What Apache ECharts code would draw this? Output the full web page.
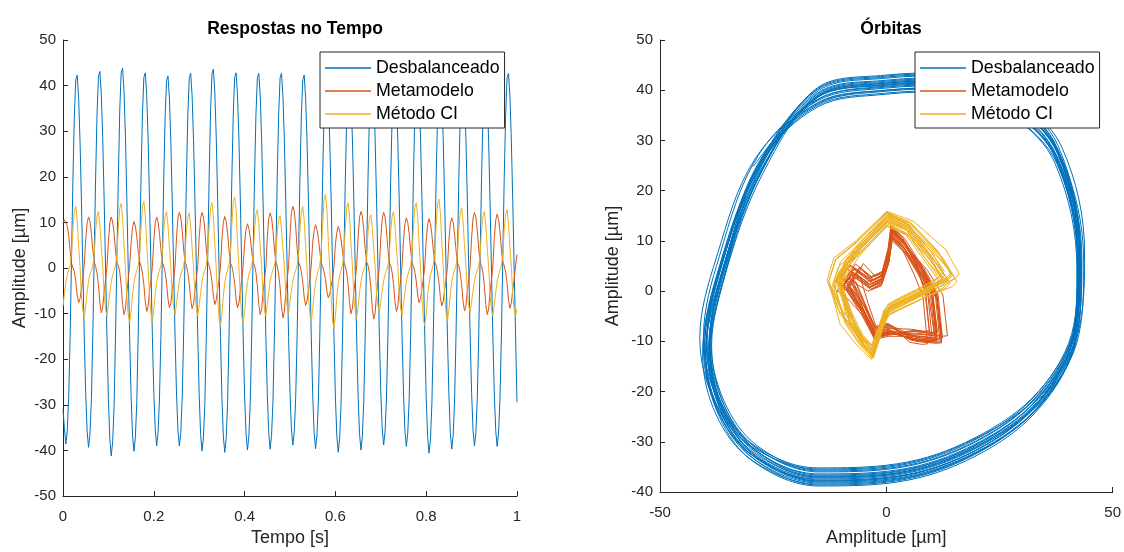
<!DOCTYPE html>
<html><head><meta charset="utf-8">
<script src="https://cdn.jsdelivr.net/npm/echarts@6/dist/echarts.min.js"></script>
<style>html,body{margin:0;padding:0;background:#fff}#c{width:1124px;height:552px}</style>
</head><body><div id="c"></div>
<script>
const seriesNames = ['Desbalanceado', 'Metamodelo', 'Método CI'];
const titles = ['Respostas no Tempo', 'Órbitas'];
const sampleInterval = 0.003125; // s between samples, 0 .. 1 s

// horizontal displacement [µm] (time plot + orbit abscissa)
const blueX = [
-31.0,-35.1,-38.6,-35.7,-28.4,-15.3,2.1,19.5,33.4,41.3,42.3,37.4,27.9,14.6,-0.5,-15.4,
-27.5,-35.8,-39.3,-36.4,-28.9,-14.9,2.6,19.9,34.0,42.1,43.1,38.1,28.4,15.0,-0.1,-15.0,
-28.8,-37.5,-41.2,-38.1,-30.3,-15.2,2.3,19.6,34.6,42.8,43.8,38.8,28.9,14.9,-0.3,-15.2,
-28.1,-36.6,-40.2,-37.2,-29.5,-14.8,2.7,20.0,33.8,41.8,42.8,37.9,28.2,14.6,-0.2,-15.0,
-27.3,-35.5,-39.0,-36.1,-28.7,-15.0,2.2,19.4,33.3,41.1,42.1,37.3,27.8,14.7,-0.4,-15.3,
-27.4,-35.5,-39.0,-36.1,-28.7,-14.9,2.5,19.8,33.7,41.7,42.7,37.8,28.2,14.9,0.0,-15.1,
-28.0,-36.5,-40.1,-37.1,-29.5,-15.1,2.4,19.7,34.4,42.6,43.6,38.6,28.8,15.1,-0.1,-15.0,
-28.3,-36.8,-40.4,-37.4,-29.7,-15.2,2.3,19.6,33.8,41.8,42.8,37.9,28.2,14.7,-0.3,-15.2,
-27.9,-36.3,-39.9,-36.9,-29.3,-15.0,2.5,19.8,33.7,41.7,42.7,37.8,28.2,14.8,-0.2,-15.1,
-27.8,-36.1,-39.7,-36.7,-29.2,-14.9,2.4,19.7,33.7,41.7,42.7,37.8,28.2,14.8,-0.2,-15.0,
-27.2,-35.3,-38.8,-35.9,-28.5,-15.1,2.2,19.5,33.4,41.3,42.3,37.4,27.9,14.6,-0.4,-15.2,
-27.7,-36.0,-39.6,-36.6,-29.1,-15.0,2.6,19.9,33.7,41.7,42.7,37.8,28.2,14.9,-0.1,-15.0,
-28.3,-36.8,-40.4,-37.4,-29.7,-15.2,2.3,19.6,33.6,41.5,42.5,37.6,28.1,14.7,-0.3,-15.3,
-27.9,-36.3,-39.9,-36.9,-29.3,-14.9,2.5,19.8,34.0,42.0,43.0,38.1,28.4,15.0,-0.1,-15.0,
-27.2,-35.3,-38.8,-35.9,-28.5,-15.1,2.3,19.6,33.5,41.4,42.4,37.5,28.0,14.7,-0.3,-15.2,
-27.4,-35.6,-39.1,-36.2,-28.7,-15.0,2.4,19.7,34.1,42.2,43.2,38.2,28.5,15.0,0.0,-15.0,
-28.4,-36.9,-40.6,-37.6,-29.8,-15.2,2.2,19.5,33.7,41.6,42.6,37.7,28.1,14.7,-0.3,-15.2,
-27.8,-36.1,-39.7,-36.7,-29.2,-15.0,2.5,19.8,33.9,41.9,42.9,38.0,28.3,14.9,-0.1,-15.1,
-27.3,-35.5,-39.0,-36.1,-28.7,-15.1,2.3,19.6,33.3,41.2,42.2,37.3,27.9,14.6,-0.4,-15.2,
-27.4,-35.6,-39.1,-36.2,-28.7,-14.9,2.5,19.8,33.7,41.7,42.7,37.8,28.2,14.8,-0.2,-15.1,
-29.4];
const orangeX = [
10.0,10.6,10.5,9.3,7.1,3.9,1.0,0.6,-0.8,-2.9,-5.9,-7.6,-6.7,-4.6,-2.3,0.8,
6.2,9.9,11.2,10.2,7.6,4.1,1.3,0.4,-1.2,-3.7,-7.6,-9.8,-8.6,-5.2,-2.6,0.4,
5.8,9.9,11.2,10.1,7.6,3.9,1.1,0.6,-0.9,-3.9,-8.0,-10.2,-9.0,-5.3,-2.4,0.6,
5.5,8.9,10.2,9.2,6.9,3.8,1.3,0.5,-1.1,-3.6,-7.4,-9.5,-8.4,-5.0,-2.7,0.3,
6.1,9.9,11.2,10.2,7.6,4.1,1.2,0.4,-0.9,-3.3,-6.8,-8.7,-7.7,-4.8,-2.5,0.5,
6.6,10.9,12.2,11.2,8.3,4.2,1.2,0.6,-1.0,-3.4,-6.9,-8.9,-7.8,-4.9,-2.4,0.7,
6.7,10.9,12.2,11.2,8.3,4.1,1.4,0.5,-0.8,-3.0,-6.2,-8.0,-7.0,-4.6,-2.6,0.4,
6.2,10.0,11.3,10.3,7.7,4.0,1.1,0.4,-1.1,-3.3,-6.8,-8.7,-7.7,-4.9,-2.5,0.6,
5.4,8.4,9.7,8.7,6.6,3.7,1.2,0.6,-1.0,-3.9,-8.0,-10.2,-9.0,-5.3,-2.7,0.3,
6.7,10.8,12.1,11.1,8.2,4.2,1.3,0.5,-1.2,-4.1,-8.5,-10.9,-9.6,-5.5,-2.6,0.5,
7.1,12.2,13.5,12.5,9.2,4.3,1.3,0.6,-0.9,-3.1,-6.4,-8.2,-7.2,-4.7,-2.4,0.6,
5.6,8.2,9.5,8.5,6.5,3.7,1.0,0.4,-0.8,-2.5,-5.1,-6.5,-5.7,-4.0,-2.3,0.4,
5.2,7.8,9.1,8.1,6.2,3.6,1.2,0.5,-1.1,-3.8,-7.8,-10.0,-8.8,-5.2,-2.6,0.5,
6.8,11.1,12.4,11.4,8.4,4.2,1.3,0.6,-1.2,-4.3,-8.7,-11.2,-9.9,-5.6,-2.7,0.4,
6.6,10.9,12.2,11.2,8.3,4.1,1.2,0.5,-1.0,-3.6,-7.4,-9.5,-8.4,-5.0,-2.5,0.6,
6.1,9.7,11.0,10.0,7.5,4.0,1.1,0.4,-0.9,-2.9,-5.9,-7.6,-6.7,-4.5,-2.4,0.5,
6.0,9.5,10.8,9.8,7.3,3.9,1.3,0.6,-1.0,-3.2,-6.5,-8.3,-7.3,-4.7,-2.6,0.4,
6.1,9.7,11.0,10.0,7.5,4.0,1.2,0.5,-1.1,-3.6,-7.3,-9.4,-8.3,-5.0,-2.5,0.6,
6.6,10.9,12.2,11.2,8.3,4.2,1.2,0.4,-1.0,-3.9,-8.0,-10.2,-9.0,-5.3,-2.6,0.5,
6.5,10.5,11.8,10.8,8.0,4.1,1.3,0.5,-0.9,-3.3,-6.9,-8.8,-7.7,-4.8,-2.5,0.6,
3.0];
const yellowX = [
-8.4,-5.6,-3.1,-1.6,-0.4,0.6,3.2,8.6,12.5,13.5,10.5,5.0,0.3,-6.1,-9.4,-10.9,
-8.4,-5.3,-2.9,-1.4,-0.5,0.4,2.8,8.2,11.4,12.4,9.4,4.6,0.4,-5.8,-9.0,-10.5,
-8.0,-5.4,-3.0,-1.5,-0.6,0.5,3.1,8.8,13.1,14.1,11.1,5.2,0.1,-6.3,-10.4,-11.9,
-9.4,-5.9,-3.2,-1.6,-0.5,0.6,3.3,9.0,13.6,14.6,11.6,5.4,0.2,-6.2,-10.1,-11.6,
-9.1,-5.7,-3.1,-1.5,-0.4,0.5,2.9,8.3,11.4,12.4,9.4,4.6,0.5,-5.7,-8.7,-10.2,
-7.7,-5.2,-2.8,-1.4,-0.5,0.4,2.8,8.1,11.1,12.1,9.1,4.5,0.4,-5.8,-9.0,-10.5,
-8.0,-5.4,-3.0,-1.5,-0.5,0.6,3.2,8.9,13.3,14.3,11.3,5.3,0.1,-6.5,-11.2,-12.7,
-10.2,-6.2,-3.3,-1.6,-0.4,0.7,3.5,9.4,14.6,15.6,12.6,5.8,0.3,-6.3,-10.6,-12.1,
-9.6,-5.9,-3.2,-1.5,-0.5,0.5,3.0,8.4,11.8,12.8,9.8,4.7,0.4,-5.8,-9.0,-10.5,
-8.0,-5.3,-2.9,-1.4,-0.4,0.4,2.7,7.9,10.5,11.5,8.5,4.3,0.5,-5.5,-8.3,-9.8,
-7.3,-5.0,-2.8,-1.4,-0.5,0.5,3.1,8.6,12.5,13.5,10.5,5.0,0.2,-6.2,-10.1,-11.6,
-9.1,-5.8,-3.2,-1.6,-0.5,0.7,3.6,9.6,15.1,16.1,13.1,6.0,0.1,-6.6,-11.6,-13.1,
-10.6,-6.3,-3.3,-1.6,-0.5,0.6,3.2,8.9,13.3,14.3,11.3,5.3,0.3,-6.1,-9.4,-10.9,
-8.4,-5.4,-3.0,-1.4,-0.4,0.4,2.7,8.0,10.7,11.7,8.7,4.3,0.5,-5.5,-8.3,-9.8,
-7.3,-5.0,-2.8,-1.4,-0.5,0.5,2.9,8.3,11.4,12.4,9.4,4.6,0.4,-5.7,-8.8,-10.3,
-7.8,-5.3,-2.9,-1.5,-0.5,0.6,3.2,8.9,13.3,14.3,11.3,5.3,0.1,-6.5,-11.2,-12.7,
-10.2,-6.1,-3.3,-1.6,-0.4,0.7,3.4,9.2,14.1,15.1,12.1,5.6,0.3,-6.2,-10.1,-11.6,
-9.1,-5.8,-3.1,-1.5,-0.5,0.5,3.0,8.5,12.2,13.2,10.2,4.9,0.4,-5.6,-8.3,-9.8,
-7.3,-5.0,-2.8,-1.4,-0.5,0.5,2.9,8.3,11.4,12.4,9.4,4.6,0.4,-5.8,-9.0,-10.5,
-8.0,-5.3,-2.9,-1.5,-0.5,0.5,3.0,8.4,11.8,12.8,9.8,4.7,0.4,-5.8,-9.0,-10.5,
-9.0];

// vertical displacement [µm] (orbit ordinate)
const blueY = [
19.0,5.2,-10.8,-23.0,-32.0,-36.8,-36.0,-30.8,-21.4,-8.0,6.0,27.0,36.5,41.5,41.0,38.5,
24.0,4.2,-12.0,-24.2,-33.2,-38.0,-37.2,-32.0,-22.6,-9.2,5.0,26.0,35.5,40.5,40.0,37.5,
26.6,6.8,-9.4,-21.6,-30.6,-35.4,-34.6,-29.4,-20.0,-6.6,7.6,28.6,38.1,43.1,42.6,40.1,
25.4,5.6,-11.6,-23.8,-32.8,-37.6,-36.8,-31.6,-22.2,-8.8,6.4,27.4,36.9,41.9,41.4,38.9,
23.4,3.6,-12.6,-24.8,-33.8,-38.6,-37.8,-32.6,-23.2,-9.8,4.4,25.4,34.9,39.9,39.4,36.9,
26.0,6.2,-10.0,-22.2,-31.2,-36.0,-35.2,-30.0,-20.6,-7.2,7.0,28.0,37.5,42.5,42.0,39.5,
24.8,5.0,-11.2,-23.4,-32.4,-37.2,-36.4,-31.2,-21.8,-8.4,5.8,26.8,36.3,41.3,40.8,38.3,
27.0,7.2,-9.2,-21.4,-30.4,-35.2,-34.4,-29.2,-19.8,-6.4,8.0,29.0,38.5,43.5,43.0,40.5,
23.2,3.4,-12.8,-25.0,-34.0,-38.8,-38.0,-32.8,-23.4,-10.0,4.2,25.2,34.7,39.7,39.2,36.7,
25.6,5.8,-11.0,-23.2,-32.2,-37.0,-36.2,-31.0,-21.6,-8.2,6.6,27.6,37.1,42.1,41.6,39.1,
24.4,4.6,-11.8,-24.0,-33.0,-37.8,-37.0,-31.8,-22.4,-9.0,5.4,26.4,35.9,40.9,40.4,37.9,
26.4,6.6,-9.8,-22.0,-31.0,-35.8,-35.0,-29.8,-20.4,-7.0,7.4,28.4,37.9,42.9,42.4,39.9,
25.0,5.2,-11.4,-23.6,-32.6,-37.4,-36.6,-31.4,-22.0,-8.6,6.0,27.0,36.5,41.5,41.0,38.5,
23.8,4.0,-12.2,-24.4,-33.4,-38.2,-37.4,-32.2,-22.8,-9.4,4.8,25.8,35.3,40.3,39.8,37.3,
26.8,7.0,-9.6,-21.8,-30.8,-35.6,-34.8,-29.6,-20.2,-6.8,7.8,28.8,38.3,43.3,42.8,40.3,
25.2,5.4,-11.0,-23.2,-32.2,-37.0,-36.2,-31.0,-21.6,-8.2,6.2,27.2,36.7,41.7,41.2,38.7,
24.0,4.2,-12.4,-24.6,-33.6,-38.4,-37.6,-32.4,-23.0,-9.6,5.0,26.0,35.5,40.5,40.0,37.5,
25.8,6.0,-10.4,-22.6,-31.6,-36.4,-35.6,-30.4,-21.0,-7.6,6.8,27.8,37.3,42.3,41.8,39.3,
24.6,4.8,-11.8,-24.0,-33.0,-37.8,-37.0,-31.8,-22.4,-9.0,5.6,26.6,36.1,41.1,40.6,38.1,
25.4,5.6,-10.6,-22.8,-31.8,-36.6,-35.8,-30.6,-21.2,-7.8,6.4,27.4,36.9,41.9,41.4,38.9,
24.8];
const orangeY = [
-8.2,-8.6,-8.5,-0.5,4.6,9.6,12.1,7.6,3.1,2.1,4.6,2.1,1.6,-3.1,-7.6,-7.0,
-9.5,-9.9,-9.8,-1.2,3.2,8.2,10.7,6.2,1.7,0.7,3.2,0.7,0.2,-4.4,-8.9,-8.3,
-8.8,-9.2,-9.1,-0.3,5.0,10.0,12.5,8.0,3.5,2.5,5.0,2.5,2.0,-3.7,-8.2,-7.6,
-9.8,-10.2,-10.1,-0.9,3.8,8.8,11.3,6.8,2.3,1.3,3.8,1.3,0.8,-4.7,-9.2,-8.6,
-7.8,-8.2,-8.1,-0.1,5.4,10.4,12.9,8.4,3.9,2.9,5.4,2.9,2.4,-2.7,-7.2,-6.6,
-9.2,-9.6,-9.5,-1.4,2.8,7.8,10.3,5.8,1.3,0.3,2.8,0.3,-0.2,-4.1,-8.6,-8.0,
-10.0,-10.4,-10.3,-0.7,4.2,9.2,11.7,7.2,2.7,1.7,4.2,1.7,1.2,-4.9,-9.4,-8.8,
-8.0,-8.4,-8.3,-1.0,3.6,8.6,11.1,6.6,2.1,1.1,3.6,1.1,0.6,-2.9,-7.4,-6.8,
-9.4,-9.8,-9.7,-0.2,5.2,10.2,12.7,8.2,3.7,2.7,5.2,2.7,2.2,-4.3,-8.8,-8.2,
-9.6,-10.0,-9.9,-1.5,2.5,7.5,10.0,5.5,1.0,0.0,2.5,0.0,-0.5,-4.5,-9.0,-8.4,
-8.6,-9.0,-8.9,-0.8,4.0,9.0,11.5,7.0,2.5,1.5,4.0,1.5,1.0,-3.5,-8.0,-7.4,
-7.6,-8.0,-7.9,-0.1,5.5,10.5,13.0,8.5,4.0,3.0,5.5,3.0,2.5,-2.5,-7.0,-6.4,
-10.2,-10.6,-10.5,-1.2,3.2,8.2,10.7,6.2,1.7,0.7,3.2,0.7,0.2,-5.1,-9.6,-9.0,
-9.0,-9.4,-9.3,-0.6,4.4,9.4,11.9,7.4,2.9,1.9,4.4,1.9,1.4,-3.9,-8.4,-7.8,
-9.8,-10.2,-10.1,-1.1,3.4,8.4,10.9,6.4,1.9,0.9,3.4,0.9,0.4,-4.7,-9.2,-8.6,
-8.0,-8.4,-8.3,-0.4,4.8,9.8,12.3,7.8,3.3,2.3,4.8,2.3,1.8,-2.9,-7.4,-6.8,
-9.4,-9.8,-9.7,-1.3,3.0,8.0,10.5,6.0,1.5,0.5,3.0,0.5,0.0,-4.3,-8.8,-8.2,
-9.6,-10.0,-9.9,-0.6,4.4,9.4,11.9,7.4,2.9,1.9,4.4,1.9,1.4,-4.5,-9.0,-8.4,
-8.4,-8.8,-8.7,-0.9,3.8,8.8,11.3,6.8,2.3,1.3,3.8,1.3,0.8,-3.3,-7.8,-7.2,
-9.2,-9.6,-9.5,-0.5,4.6,9.6,12.1,7.6,3.1,2.1,4.6,2.1,1.6,-4.1,-8.6,-8.0,
-8.0];
const yellowY = [
-5.8,-10.3,-12.8,-8.8,-5.8,-4.2,-3.0,-0.6,1.2,2.2,6.3,11.9,13.9,8.1,4.6,0.9,
-4.4,-8.9,-11.4,-7.4,-4.4,-2.8,-1.6,0.8,2.6,3.6,7.7,13.3,15.3,9.5,6.0,2.3,
-6.2,-10.7,-13.2,-9.2,-6.2,-4.8,-3.6,-1.2,0.6,1.6,5.5,11.1,13.1,7.3,3.8,0.3,
-5.2,-9.7,-12.2,-8.2,-5.2,-3.3,-2.1,0.3,2.1,3.1,7.5,13.1,15.1,9.3,5.8,1.8,
-6.4,-10.9,-13.4,-9.4,-6.4,-4.2,-3.0,-0.6,1.2,2.2,6.9,12.5,14.5,8.7,5.2,0.9,
-4.2,-8.7,-11.2,-7.2,-4.2,-3.6,-2.4,0.0,1.8,2.8,5.9,11.5,13.5,7.7,4.2,1.5,
-5.6,-10.1,-12.6,-8.6,-5.6,-3.2,-2.0,0.4,2.2,3.2,8.1,13.7,15.7,9.9,6.4,1.9,
-6.6,-11.1,-13.6,-9.6,-6.6,-4.5,-3.3,-0.9,0.9,1.9,6.5,12.1,14.1,8.3,4.8,0.6,
-4.0,-8.5,-11.0,-7.0,-4.0,-2.5,-1.3,1.1,2.9,3.9,7.9,13.5,15.5,9.7,6.2,2.6,
-5.0,-9.5,-12.0,-8.0,-5.0,-3.6,-2.4,0.0,1.8,2.8,6.7,12.3,14.3,8.5,5.0,1.5,
-6.0,-10.5,-13.0,-9.0,-6.0,-4.8,-3.6,-1.2,0.6,1.6,5.3,10.9,12.9,7.1,3.6,0.3,
-5.4,-9.9,-12.4,-8.4,-5.4,-3.0,-1.8,0.6,2.4,3.4,8.3,13.9,15.9,10.1,6.6,2.1,
-3.8,-8.3,-10.8,-6.8,-3.8,-2.8,-1.6,0.8,2.6,3.6,7.1,12.7,14.7,8.9,5.4,2.3,
-5.6,-10.1,-12.6,-8.6,-5.6,-4.4,-3.2,-0.8,1.0,2.0,5.7,11.3,13.3,7.5,4.0,0.7,
-6.2,-10.7,-13.2,-9.2,-6.2,-3.9,-2.7,-0.3,1.5,2.5,7.3,12.9,14.9,9.1,5.6,1.2,
-5.2,-9.7,-12.2,-8.2,-5.2,-3.1,-1.9,0.5,2.3,3.3,7.9,13.5,15.5,9.7,6.2,2.0,
-4.6,-9.1,-11.6,-7.6,-4.6,-3.7,-2.5,-0.1,1.7,2.7,6.1,11.7,13.7,7.9,4.4,1.4,
-6.0,-10.5,-13.0,-9.0,-6.0,-3.7,-2.5,-0.1,1.7,2.7,7.5,13.1,15.1,9.3,5.8,1.4,
-5.4,-9.9,-12.4,-8.4,-5.4,-3.9,-2.7,-0.3,1.5,2.5,6.5,12.1,14.1,8.3,4.8,1.2,
-4.8,-9.3,-11.8,-7.8,-4.8,-3.3,-2.1,0.3,2.1,3.1,7.1,12.7,14.7,8.9,5.4,1.8,
-4.5];

const colors = ['#0072BD', '#D95319', '#EDB120'];
const orbitSmooth = [0.35, 0, 0];
const FONT = 'Liberation Sans, Arial, Helvetica, sans-serif';
const AX = '#262626';

function axisBase(extra) {
  return Object.assign({
    type: 'value',
    axisLine: { show: true, onZero: false, lineStyle: { color: AX, width: 1 } },
    axisTick: { show: true, inside: true, length: 5, lineStyle: { color: AX, width: 1 } },
    splitLine: { show: false },
    nameLocation: 'middle',
    nameTextStyle: { color: AX, fontSize: 18, fontFamily: FONT }
  }, extra);
}
function labels(margin) {
  return { color: AX, fontSize: 15, fontFamily: FONT, margin: margin };
}

const timeSeries = [blueX, orangeX, yellowX];
const orbitX = [blueX, orangeX, yellowX];
const orbitY = [blueY, orangeY, yellowY];

const series = [];
timeSeries.forEach((vals, k) => {
  series.push({
    name: seriesNames[k], type: 'line', xAxisIndex: 0, yAxisIndex: 0,
    data: vals.map((v, i) => [i * sampleInterval, v]),
    showSymbol: false, symbol: 'none', color: colors[k],
    lineStyle: { width: 1, color: colors[k] }, animation: false, silent: true
  });
});
orbitX.forEach((xs, k) => {
  series.push({
    name: seriesNames[k], type: 'line', xAxisIndex: 1, yAxisIndex: 1,
    data: xs.map((v, i) => [v, orbitY[k][i]]),
    showSymbol: false, symbol: 'none', smooth: orbitSmooth[k], color: colors[k],
    lineStyle: { width: 1, color: colors[k] }, animation: false, silent: true
  });
});

function legendAt(left) {
  return {
    data: seriesNames, left: left, top: 52, orient: 'vertical',
    icon: 'rect', itemWidth: 46, itemHeight: 1.5, itemGap: 5,
    padding: [7, 5, 5, 5], backgroundColor: '#fff', borderColor: AX, borderWidth: 1,
    borderRadius: 0, selectedMode: false,
    textStyle: { color: '#000', fontSize: 17.8, fontFamily: FONT, padding: [0, 0, 0, 0] }
  };
}

const chart = echarts.init(document.getElementById('c'), null, { renderer: 'canvas' });
chart.setOption({
  animation: false,
  backgroundColor: '#fff',
  title: [
    { text: titles[0], left: 290, top: 15, textAlign: 'center',
      textStyle: { fontSize: 17.5, fontWeight: 'bold', color: '#000', fontFamily: FONT } },
    { text: titles[1], left: 886, top: 15, textAlign: 'center',
      textStyle: { fontSize: 17.5, fontWeight: 'bold', color: '#000', fontFamily: FONT } }
  ],
  legend: [legendAt(320), legendAt(915)],
  grid: [
    { left: 63, top: 40, width: 454, height: 457 },
    { left: 660, top: 40, width: 453, height: 457 }
  ],
  xAxis: [
    axisBase({ gridIndex: 0, min: 0, max: 1, interval: 0.2, name: 'Tempo [s]', nameGap: 32,
      axisLabel: labels(13) }),
    axisBase({ gridIndex: 1, min: -50, max: 50, interval: 50, name: 'Amplitude [µm]', nameGap: 37,
      axisLabel: labels(13) })
  ],
  yAxis: [
    axisBase({ gridIndex: 0, min: -50, max: 50, interval: 10, name: 'Amplitude [µm]', nameGap: 34,
      axisLabel: labels(7) }),
    axisBase({ gridIndex: 1, min: -40, max: 50, interval: 10, name: 'Amplitude [µm]', nameGap: 38,
      axisLabel: labels(7) })
  ],
  series: series
});
</script>
</body></html>
